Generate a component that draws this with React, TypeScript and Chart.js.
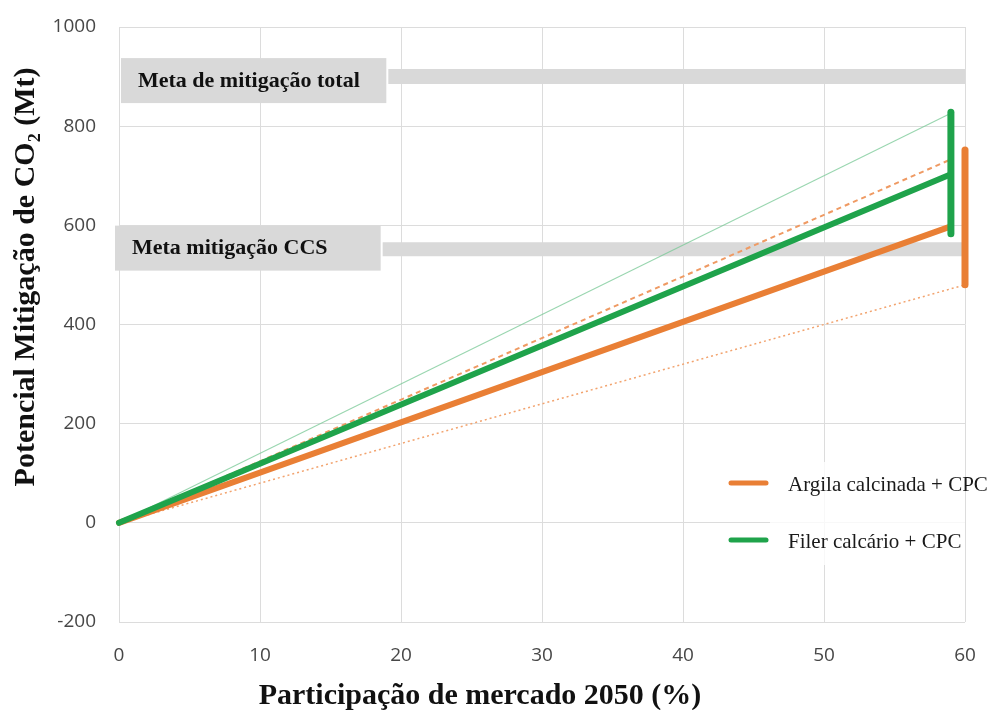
import { useEffect, useRef } from "react";
import { Chart, registerables } from "chart.js";
Chart.register(...registerables);

// ---- data ----
const xMin = 0;
const xMax = 60;
const xStep = 10;
const yMin = -200;
const yMax = 1000;
const yStep = 200;

const xTitle = "Participação de mercado 2050 (%)";
const yTitle = "Potencial Mitigação de CO₂ (Mt)";

// share of market (x) at the ends of each scenario line
const lineX = [0, 59];
const clayLowX = [0, 60];

const fillerHigh = [0, 826]; // thin green
const clayHigh = [0, 733]; // dashed orange
const fillerCentral = [0, 703]; // thick green
const clayCentral = [0, 598]; // thick orange
const clayLow = [0, 480]; // dotted orange

const fillerRangeX = 59;
const fillerRange = [583, 828];
const clayRangeX = 60;
const clayRange = [480, 752];

const targetLabels = ["Meta de mitigação total", "Meta mitigação CCS"];
const targetValues = [900, 552];
const targetStartX = [19.1, 18.7];

const legendLabels = ["Argila calcinada + CPC", "Filer calcário + CPC"];

const ORANGE = "#e97f35";
const GREEN = "#1fa34b";
const BAND = "#d9d9d9";

const pts = (xs: number[], ys: number[]) => xs.map((x, i) => ({ x, y: ys[i] }));

export default function App() {
  const ref = useRef<HTMLCanvasElement>(null);

  useEffect(() => {
    const canvas = ref.current;
    if (!canvas) return;

    const overlay = {
      id: "overlay",
      beforeDatasetsDraw(chart: any) {
        const { ctx, scales } = chart;
        const xs = scales.x;
        const ys = scales.y;
        ctx.save();
        // target label boxes
        const boxOffsets = [4, -1];
        targetLabels.forEach((label, i) => {
          const cy = ys.getPixelForValue(targetValues[i]) + boxOffsets[i];
          const left = i === 0 ? chart.chartArea.left + 2 : chart.chartArea.left - 4;
          const right = xs.getPixelForValue(targetStartX[i]) - 2;
          ctx.fillStyle = BAND;
          ctx.fillRect(left, cy - 22.5, right - left, 45);
          ctx.fillStyle = "#111";
          ctx.font = "bold 22px 'Liberation Serif'";
          ctx.textAlign = "left";
          ctx.textBaseline = "alphabetic";
          ctx.fillText(label, left + 17, cy + 6);
        });
        ctx.restore();
      },
      afterDraw(chart: any) {
        const { ctx } = chart;
        ctx.save();
        // legend
        ctx.fillStyle = "rgba(255,255,255,0.8)";
        ctx.fillRect(770, 462, 195, 103);
        const colors = [ORANGE, GREEN];
        legendLabels.forEach((label, i) => {
          const y = 483 + i * 57;
          ctx.strokeStyle = colors[i];
          ctx.lineWidth = 5;
          ctx.lineCap = "round";
          ctx.beginPath();
          ctx.moveTo(731, y);
          ctx.lineTo(766, y);
          ctx.stroke();
          ctx.fillStyle = "#1a1a1a";
          ctx.font = "21px 'Liberation Serif'";
          ctx.textAlign = "left";
          ctx.textBaseline = "middle";
          ctx.fillText(label, 788, y + 2);
        });
        // axis titles
        ctx.fillStyle = "#111";
        ctx.font = "bold 30px 'Liberation Serif'";
        ctx.textAlign = "center";
        ctx.textBaseline = "alphabetic";
        ctx.fillText(xTitle, 480, 704);
        ctx.translate(34, 277);
        ctx.rotate(-Math.PI / 2);
        ctx.fillText(yTitle, 0, 0);
        ctx.restore();
      },
    };

    const chart = new Chart(canvas, {
      type: "line",
      data: {
        datasets: [
          {
            label: "Filer range",
            data: [
              { x: fillerRangeX, y: fillerRange[0] },
              { x: fillerRangeX, y: fillerRange[1] },
            ],
            borderColor: GREEN,
            borderWidth: 7,
            borderCapStyle: "round",
            pointRadius: 0,
            clip: false,
            order: 1,
          },
          {
            label: "Argila range",
            data: [
              { x: clayRangeX, y: clayRange[0] },
              { x: clayRangeX, y: clayRange[1] },
            ],
            borderColor: ORANGE,
            borderWidth: 7,
            borderCapStyle: "round",
            pointRadius: 0,
            clip: false,
            order: 2,
          },
          {
            label: legendLabels[1],
            data: pts(lineX, fillerCentral),
            borderColor: GREEN,
            borderWidth: 6,
            borderCapStyle: "round",
            pointRadius: 0,
            clip: false,
            order: 3,
          },
          {
            label: legendLabels[0],
            data: pts(lineX, clayCentral),
            borderColor: ORANGE,
            borderWidth: 6,
            borderCapStyle: "round",
            pointRadius: 0,
            clip: false,
            order: 4,
          },
          {
            label: "Filer alto",
            data: pts(lineX, fillerHigh),
            borderColor: "rgba(120,200,150,0.75)",
            borderWidth: 1.2,
            pointRadius: 0,
            clip: false,
            order: 5,
          },
          {
            label: "Argila alto",
            data: pts(lineX, clayHigh),
            borderColor: "#ef9a63",
            borderWidth: 2,
            borderDash: [5, 4],
            pointRadius: 0,
            clip: false,
            order: 6,
          },
          {
            label: "Argila baixo",
            data: pts(clayLowX, clayLow),
            borderColor: "#f2a36e",
            borderWidth: 1.5,
            borderDash: [2, 3],
            pointRadius: 0,
            clip: false,
            order: 7,
          },
          {
            label: targetLabels[0],
            data: [
              { x: targetStartX[0], y: targetValues[0] },
              { x: xMax, y: targetValues[0] },
            ],
            borderColor: BAND,
            borderWidth: 15,
            pointRadius: 0,
            order: 10,
          },
          {
            label: targetLabels[1],
            data: [
              { x: targetStartX[1], y: targetValues[1] },
              { x: xMax, y: targetValues[1] },
            ],
            borderColor: BAND,
            borderWidth: 14,
            pointRadius: 0,
            order: 11,
          },
        ],
      },
      options: {
        responsive: false,
        maintainAspectRatio: false,
        animation: false,
        layout: { padding: { top: 27, right: 35, left: 0, bottom: 0 } },
        plugins: {
          legend: { display: false },
          tooltip: { enabled: false },
        },
        scales: {
          x: {
            type: "linear",
            min: xMin,
            max: xMax,
            afterFit: (s: any) => {
              s.height = 88;
              s.paddingLeft = 0;
              s.paddingRight = 0;
            },
            border: { display: false },
            grid: { color: "#dcdcdc", lineWidth: 1, drawTicks: false },
            ticks: {
              stepSize: xStep,
              padding: 22,
              color: "#474747",
              font: { family: "'Open Sans'", size: 19 },
            },
          },
          y: {
            type: "linear",
            min: yMin,
            max: yMax,
            afterFit: (s: any) => {
              s.width = 119;
              s.paddingTop = 0;
              s.paddingBottom = 0;
            },
            border: { display: false },
            grid: { color: "#dcdcdc", lineWidth: 1, drawTicks: false },
            ticks: {
              stepSize: yStep,
              padding: 23,
              color: "#474747",
              font: { family: "'Open Sans'", size: 19 },
              callback: (v: any) => String(v),
            },
          },
        },
      },
      plugins: [overlay],
    } as any);

    return () => chart.destroy();
  }, []);

  return (
    <div style={{ position: "absolute", left: 0, top: 0, width: 1000, height: 710, background: "#fff" }}>
      <canvas ref={ref} width={1000} height={710} />
    </div>
  );
}
